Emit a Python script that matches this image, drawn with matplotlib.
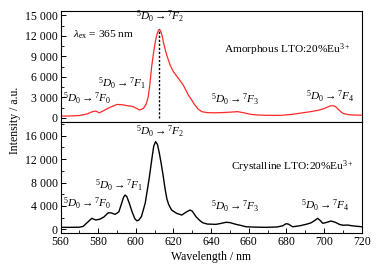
import matplotlib
matplotlib.use("Agg")
import matplotlib.pyplot as plt
from matplotlib.ticker import MultipleLocator, FuncFormatter

plt.rcParams['font.family'] = ['Liberation Serif', 'DejaVu Serif']
plt.rcParams['mathtext.fontset'] = 'custom'
plt.rcParams['mathtext.rm'] = 'Liberation Serif'
plt.rcParams['mathtext.it'] = 'Liberation Serif:italic'
plt.rcParams['mathtext.bf'] = 'Liberation Serif:bold'

# Amorphous LTO:20%Eu3+
wl_amor = [560, 565, 570, 574, 577, 578.7, 580.6, 583, 586, 590, 593, 595.5, 597, 599,
           602, 604, 605.5, 606.6, 607.5, 608.4, 609.3, 610.2, 611, 611.8, 612.5, 613.2,
           614, 614.6, 615.5, 616.4, 618.2, 620, 622.6, 625.2, 627.9, 629.7, 631, 633,
           635, 638, 642, 646, 650, 654, 657, 661, 665, 670, 677, 683, 688, 692.5, 697,
           700, 703, 704.6, 706, 708, 710, 713, 716, 720]
int_amor = [250, 260, 330, 550, 900, 980, 730, 1050, 1500, 1950, 1900, 1760, 1720, 1580,
            1130, 1370, 2000, 3080, 5000, 7470, 9300, 10900, 12000, 12700, 12950, 12700,
            12000, 11140, 10100, 9190, 7720, 6740, 5770, 4790, 3330, 2600, 2000, 1300,
            900, 750, 730, 760, 820, 900, 750, 500, 400, 360, 350, 500, 700, 880, 1100,
            1350, 1700, 1780, 1650, 1100, 650, 450, 400, 380]

# Crystalline LTO:20%Eu3+
wl_cry = [560, 565, 570, 572, 574, 576.6, 578.7, 581, 583, 585.4, 587, 589, 591, 592.5,
          593.5, 594.3, 595.2, 596.5, 598, 599.5, 600.5, 601.5, 603, 605, 607, 608.5,
          609.5, 610.5, 611.5, 612.5, 613.5, 614.6, 615.5, 616.5, 617.5, 619, 621.7,
          624.4, 626.5, 628.8, 630, 632, 634, 635.5, 638, 642.6, 645, 647.9, 650, 653.2,
          656, 658.5, 663, 669, 675, 678, 679.8, 681, 683.3, 687, 690.4, 693, 695, 696.6,
          698, 699.3, 701, 703.7, 706, 708.1, 710, 712.6, 715, 718, 720]
int_cry = [340, 340, 360, 500, 1100, 1880, 1590, 1750, 2100, 2840, 2800, 2560, 3000, 4500,
           5500, 5860, 5600, 4500, 3000, 1800, 1470, 1550, 2200, 4500, 8500, 12000,
           14200, 15000, 14500, 13000, 11200, 9000, 7000, 5200, 4200, 3300, 2730,
           2440, 2900, 3300, 3100, 2150, 1500, 1130, 900, 850, 1000, 1200, 1150, 850,
           650, 440, 380, 340, 400, 600, 960, 900, 440, 600, 850, 1100, 1500, 1880,
           1500, 1030, 1150, 1420, 1200, 850, 700, 730, 600, 500, 440]

peak_wl = 612.5
peak_int = 12950

x_ticks = [560, 580, 600, 620, 640, 660, 680, 700, 720]

fig = plt.figure(figsize=(3.76, 2.70), dpi=100)
ax1 = fig.add_axes([0.161, 0.549, 0.801, 0.411])
ax2 = fig.add_axes([0.161, 0.137, 0.801, 0.412])

fmt = FuncFormatter(lambda v, p: f"{int(v):,}".replace(",", " "))
FS = 8.5

ax1.plot(wl_amor, int_amor, color='#ff2a2a', lw=0.9)
ax1.plot([peak_wl, peak_wl], [0, peak_int], color='black', lw=1.0, ls=(0, (1.6, 1.3)))
ax1.set_xlim(560, 720)
ax1.set_ylim(-586, 15670)
ax1.yaxis.set_major_locator(MultipleLocator(3000))
ax1.yaxis.set_minor_locator(MultipleLocator(1500))
ax1.yaxis.set_major_formatter(fmt)
ax1.set_xticks([])

ax2.plot(wl_cry, int_cry, color='black', lw=1.0)
ax2.set_xlim(560, 720)
ax2.set_ylim(-630, 18390)
ax2.yaxis.set_major_locator(MultipleLocator(4000))
ax2.yaxis.set_minor_locator(MultipleLocator(2000))
ax2.yaxis.set_major_formatter(fmt)
ax2.set_xticks(x_ticks)
ax2.xaxis.set_minor_locator(MultipleLocator(10))

for ax in (ax1, ax2):
    ax.tick_params(axis='both', which='major', direction='in', length=3.5, width=0.7,
                   labelsize=FS, pad=2, top=False, right=False)
    ax.tick_params(axis='both', which='minor', direction='in', length=2, width=0.6,
                   top=False, right=False)
    for s in ax.spines.values():
        s.set_linewidth(0.8)

ax2.set_xlabel('Wavelength / nm', fontsize=FS, labelpad=2)
fig.text(0.040, 0.555, 'Intensity / a.u.', rotation=90, fontsize=FS, ha='center', va='center')

def trans(f, i):
    return r'${}^{5}\mathit{D}_{0}\rightarrow{}^{7}\mathit{F}_{%d}$' % i

TS = 8.2
def px(ax, x, y, s, size=TS, ha='left'):
    fig.text(x / 376, 1 - y / 270, s, fontsize=size, ha=ha, va='center')

# top panel texts
px(ax1, 72.7, 34.3, r'$\mathit{\lambda}_{\mathrm{ex}}$ = 365 nm')
px(ax1, 160, 17, trans(0, 2), ha='center')
px(ax1, 98, 84, trans(0, 1))
px(ax1, 63, 99, trans(0, 0))
px(ax1, 211, 100, trans(0, 3))
px(ax1, 306, 97, trans(0, 4))
px(ax1, 351, 49.3, r'Amorphous LTO:20%Eu$^{3+}$', ha='right')

# bottom panel texts
px(ax2, 160, 131.7, trans(0, 2), ha='center')
px(ax2, 95, 186, trans(0, 1))
px(ax2, 63, 204, trans(0, 0))
px(ax2, 211, 206.7, trans(0, 3))
px(ax2, 301, 206, trans(0, 4))
px(ax2, 354, 166.7, r'Crystalline LTO:20%Eu$^{3+}$', ha='right')

fig.savefig('out.png', dpi=100)
